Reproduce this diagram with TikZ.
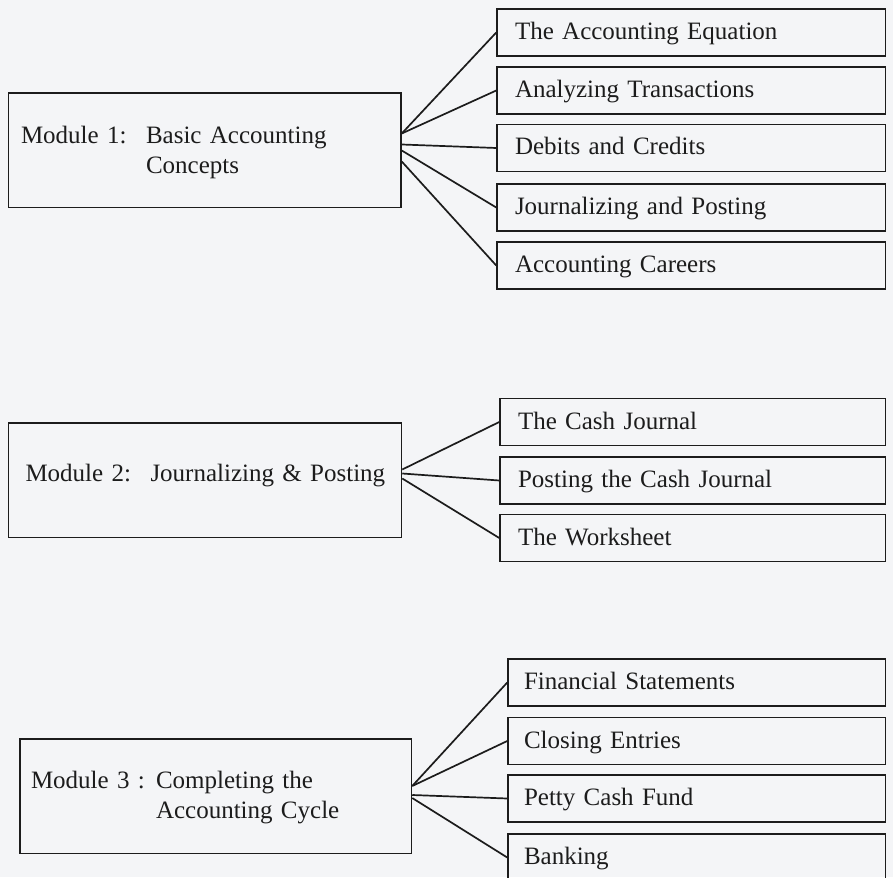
\documentclass[tikz,border=0pt]{standalone}
\usepackage{fontspec}
\setmainfont{Liberation Serif}
\usetikzlibrary{calc}
\definecolor{paper}{RGB}{244,245,247}
\definecolor{ink}{RGB}{28,28,28}
\begin{document}
\begin{tikzpicture}[x=1pt,y=-1pt,
  every node/.style={font=\fontsize{25}{30}\selectfont, text=ink},
  topicbox/.style={draw=ink, line width=1.5pt, rectangle, inner ysep=0pt,
    align=left, minimum height=47pt, text height=18pt, text depth=4pt},
  grpA/.style={topicbox, inner xsep=18pt, text width=352.5pt},
  grpB/.style={topicbox, inner xsep=18pt, text width=349.5pt},
  grpC/.style={topicbox, inner xsep=16pt, text width=345.5pt},
  modbox/.style={draw=ink, line width=1.5pt, rectangle, inner ysep=0pt,
    align=left, minimum height=114.5pt, text height=17.5pt},
  link/.style={draw=ink, line width=1.7pt}]
\fill[paper] (0,0) rectangle (893,877);
\useasboundingbox (0,0) rectangle (893,877);
\clip (0,0) rectangle (893,877);

% Module 1 and its topics
\node[modbox, inner xsep=12.5pt, text width=367.5pt, text depth=32pt] (m1) at (204.75,150.5)
  {\makebox[125pt][l]{Module 1:}\mbox{Basic Accounting}\\\hspace*{125pt}Concepts};
\node[grpA] (t11) at (691.25,32.5)  {\mbox{The Accounting Equation}};
\node[grpA] (t12) at (691.25,90.5)  {\mbox{Analyzing Transactions}};
\node[grpA] (t13) at (691.25,148)   {\mbox{Debits and Credits}};
\node[grpA] (t14) at (691.25,207.5) {\mbox{Journalizing and Posting}};
\node[grpA] (t15) at (691.25,265.5) {\mbox{Accounting Careers}};
\draw[link] ($(m1.east)+(0,-17)$) -- (t11.west);
\draw[link] ($(m1.east)+(0,-17)$) -- (t12.west);
\draw[link] ($(m1.east)+(0,-6)$)  -- (t13.west);
\draw[link] ($(m1.east)+(0,0)$)   -- (t14.west);
\draw[link] ($(m1.east)+(0,11)$)  -- (t15.west);

% Module 2 and its topics
\node[modbox, inner xsep=17pt, text width=359pt, text depth=15.5pt] (m2) at (205,480)
  {\makebox[125pt][l]{Module 2:}\mbox{Journalizing \& Posting}};
\node[grpB] (t21) at (692.75,422)   {\mbox{The Cash Journal}};
\node[grpB] (t22) at (692.75,480.5) {\mbox{Posting the Cash Journal}};
\node[grpB] (t23) at (692.75,538)   {\mbox{The Worksheet}};
\draw[link] ($(m2.east)+(0,-10.5)$) -- (t21.west);
\draw[link] ($(m2.east)+(0,-6.5)$)  -- (t22.west);
\draw[link] ($(m2.east)+(0,-1.5)$)  -- (t23.west);

% Module 3 and its topics
\node[modbox, inner xsep=11pt, text width=369.5pt, text depth=33.5pt] (m3) at (215.75,796)
  {\makebox[125pt][l]{Module 3 :}\mbox{Completing the}\\\hspace*{125pt}\mbox{Accounting Cycle}};
\node[grpC] (t31) at (696.75,682.5) {\mbox{Financial Statements}};
\node[grpC] (t32) at (696.75,741)   {\mbox{Closing Entries}};
\node[grpC] (t33) at (696.75,798.5) {\mbox{Petty Cash Fund}};
\node[grpC] (t34) at (696.75,857.5) {\mbox{Banking}};
\draw[link] ($(m3.east)+(0,-10)$) -- (t31.west);
\draw[link] ($(m3.east)+(0,-10)$) -- (t32.west);
\draw[link] ($(m3.east)+(0,-1)$)  -- (t33.west);
\draw[link] ($(m3.east)+(0,2)$)   -- (t34.west);
\end{tikzpicture}
\end{document}
